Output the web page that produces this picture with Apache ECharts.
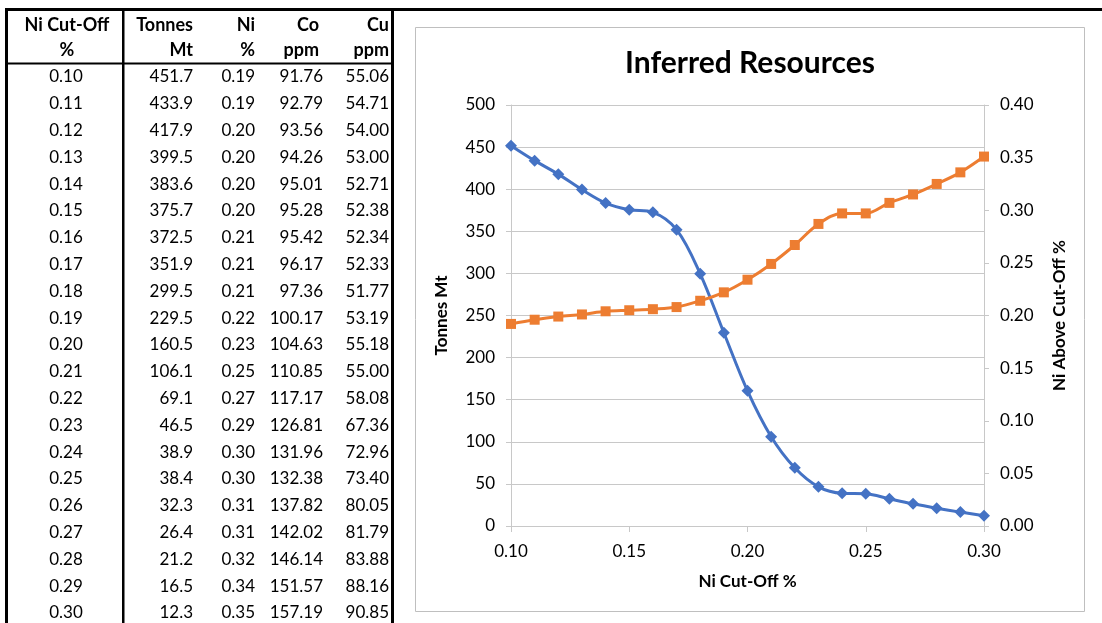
<!DOCTYPE html>
<html>
<head>
<meta charset="utf-8">
<script src="https://cdn.jsdelivr.net/npm/echarts@6/dist/echarts.min.js"></script>
<style>
html,body{margin:0;padding:0;background:#fff;}
#main{width:1102px;height:623px;}
</style>
</head>
<body>
<div id="main"></div>
<script>
// ---- data ----
const cutoff = [0.10,0.11,0.12,0.13,0.14,0.15,0.16,0.17,0.18,0.19,0.20,0.21,0.22,0.23,0.24,0.25,0.26,0.27,0.28,0.29,0.30];
const tonnes = [451.7,433.9,417.9,399.5,383.6,375.7,372.5,351.9,299.5,229.5,160.5,106.1,69.1,46.5,38.9,38.4,32.3,26.4,21.2,16.5,12.3];
const niGrade = [0.19,0.19,0.20,0.20,0.20,0.20,0.21,0.21,0.21,0.22,0.23,0.25,0.27,0.29,0.30,0.30,0.31,0.31,0.32,0.34,0.35];
const coPpm = [91.76,92.79,93.56,94.26,95.01,95.28,95.42,96.17,97.36,100.17,104.63,110.85,117.17,126.81,131.96,132.38,137.82,142.02,146.14,151.57,157.19];
const cuPpm = [55.06,54.71,54.00,53.00,52.71,52.38,52.34,52.33,51.77,53.19,55.18,55.00,58.08,67.36,72.96,73.40,80.05,81.79,83.88,88.16,90.85];
// Ni above cut-off as plotted
const niPlotted = [0.192,0.196,0.199,0.201,0.204,0.205,0.206,0.208,0.214,0.222,0.234,0.249,0.267,0.287,0.297,0.297,0.307,0.315,0.325,0.336,0.351];
const headerRow1 = ['Ni Cut-Off','Tonnes','Ni','Co','Cu'];
const headerRow2 = ['%','Mt','%','ppm','ppm'];
const titleText = 'Inferred Resources';
const xName = 'Ni Cut-Off %';
const yLeftName = 'Tonnes Mt';
const yRightName = 'Ni Above Cut-Off %';

// ---- layout (table) ----
const FONT = 'Lato, "Noto Sans", sans-serif';
const cols = [
  {x:66, align:'center', hx:67, fmt:v=>v.toFixed(2), data:cutoff},
  {x:193, align:'right', hx:193, fmt:v=>v.toFixed(1), data:tonnes},
  {x:255, align:'right', hx:255, fmt:v=>v.toFixed(2), data:niGrade},
  {x:323, align:'right', hx:319, fmt:v=>v.toFixed(2), data:coPpm},
  {x:389, align:'right', hx:389, fmt:v=>v.toFixed(2), data:cuPpm}
];
const rowY0 = 77, rowH = 26.8;
const graphics = [];
function txt(t, x, y, align, bold, size) {
  graphics.push({type:'text', x:x, y:y, z:10, style:{
    text:t, fill:'#000', font:(bold?'bold ':'')+size+'px '+FONT,
    fontSize:size, fontWeight:bold?'bold':'normal', fontFamily:FONT,
    align:align, textAlign:align, verticalAlign:'middle', textVerticalAlign:'middle'}});
}
function box(x,y,w,h,color){
  graphics.push({type:'rect', z:9, shape:{x:x,y:y,width:w,height:h}, style:{fill:color}});
}
cols.forEach((c,ci)=>{
  txt(headerRow1[ci], c.hx, 25, c.align, true, 18);
  txt(headerRow2[ci], c.hx, 50, c.align, true, 18);
  c.data.forEach((v,ri)=>{ txt(c.fmt(v), c.x, rowY0 + ri*rowH, c.align, false, 17); });
});
// table borders
box(5, 8, 1097, 3, '#000');      // top rule across page
box(5, 8, 3, 615, '#000');       // left border
box(122, 11, 2.5, 612, '#000');  // column divider
box(391, 11, 3, 612, '#000');    // right border
box(7, 62.5, 385, 2, '#000');    // header separator
// chart frame
graphics.push({type:'rect', z:0, shape:{x:415.5,y:27.5,width:669,height:584}, style:{fill:'#fff', stroke:'#bfbfbf', lineWidth:1}});
// title
txt(titleText, 750, 63, 'center', true, 30);

const chart = echarts.init(document.getElementById('main'), null, {renderer:'canvas'});
const gridColor = '#c8c8c8';
const labelStyle = {color:'#000', fontSize:17, fontFamily:FONT};
const nameStyle = {color:'#000', fontSize:17, fontWeight:'bold', fontFamily:FONT};
chart.setOption({
  animation:false,
  backgroundColor:'#fff',
  graphic:{elements:graphics},
  grid:{left:511, top:105, width:473, height:421, containLabel:false},
  xAxis:{
    type:'value', min:0.10, max:0.30, interval:0.05,
    name:xName, nameLocation:'middle', nameGap:47, nameTextStyle:nameStyle,
    axisLine:{show:true, onZero:false, lineStyle:{color:gridColor, width:1}},
    axisTick:{show:true, length:6, lineStyle:{color:gridColor}},
    axisLabel:{...labelStyle, margin:17, formatter:v=>v.toFixed(2)},
    splitLine:{show:false}
  },
  yAxis:[{
    type:'value', min:0, max:500, interval:50, position:'left',
    name:yLeftName, nameLocation:'middle', nameGap:61, nameRotate:90, nameTextStyle:nameStyle,
    axisLine:{show:true, lineStyle:{color:gridColor, width:1}},
    axisTick:{show:true, length:5, lineStyle:{color:gridColor}},
    axisLabel:{...labelStyle, margin:16},
    splitLine:{show:true, lineStyle:{color:gridColor, width:1}}
  },{
    type:'value', min:0, max:0.40, interval:0.05, position:'right',
    name:yRightName, nameLocation:'middle', nameGap:67, nameRotate:90, nameTextStyle:nameStyle,
    axisLine:{show:true, lineStyle:{color:gridColor, width:1}},
    axisTick:{show:true, length:5, lineStyle:{color:gridColor}},
    axisLabel:{...labelStyle, margin:16, formatter:v=>v.toFixed(2)},
    splitLine:{show:false}
  }],
  series:[{
    type:'line', name:'Tonnes', yAxisIndex:0,
    data:cutoff.map((c,i)=>[c, tonnes[i]]),
    smooth:0.35, symbol:'diamond', symbolSize:12,
    itemStyle:{color:'#4472C4'}, lineStyle:{color:'#4472C4', width:3}
  },{
    type:'line', name:'Ni', yAxisIndex:1,
    data:cutoff.map((c,i)=>[c, niPlotted[i]]),
    smooth:0.35, symbol:'rect', symbolSize:10,
    itemStyle:{color:'#ED7D31'}, lineStyle:{color:'#ED7D31', width:3}
  }]
});
</script>
</body>
</html>
